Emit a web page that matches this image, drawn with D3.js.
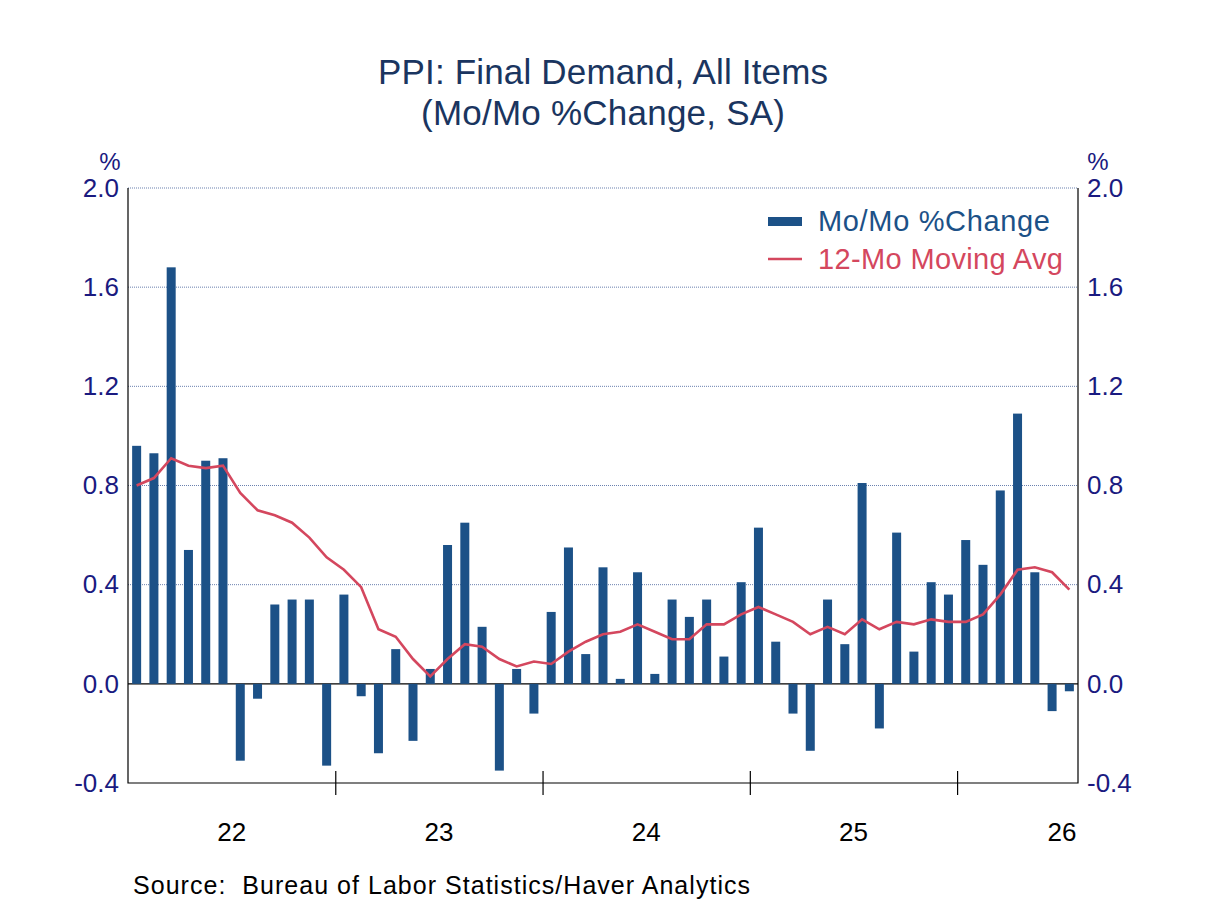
<!DOCTYPE html><html><head><meta charset="utf-8"><script src="https://cdn.jsdelivr.net/npm/d3@7"></script>
<style>body{margin:0;background:#fff}</style></head><body><svg id="c" width="1208" height="906"></svg>
<script>
const yearLabels=["22","23","24","25","26"];
const momChange=[0.96,0.93,1.68,0.54,0.90,0.91,-0.31,-0.06,0.32,0.34,0.34,-0.33,
0.36,-0.05,-0.28,0.14,-0.23,0.06,0.56,0.65,0.23,-0.35,0.06,-0.12,
0.29,0.55,0.12,0.47,0.02,0.45,0.04,0.34,0.27,0.34,0.11,0.41,
0.63,0.17,-0.12,-0.27,0.34,0.16,0.81,-0.18,0.61,0.13,0.41,0.36,
0.58,0.48,0.78,1.09,0.45,-0.11,-0.03];
const movingAvg=[0.80,0.83,0.91,0.88,0.87,0.88,0.77,0.70,0.68,0.65,0.59,0.51,
0.46,0.39,0.22,0.19,0.10,0.03,0.10,0.16,0.15,0.10,0.07,0.09,
0.08,0.13,0.17,0.20,0.21,0.24,0.21,0.18,0.18,0.24,0.24,0.28,
0.31,0.28,0.25,0.20,0.23,0.20,0.26,0.22,0.25,0.24,0.26,0.25,
0.25,0.28,0.36,0.46,0.47,0.45,0.38];
const yTicks=[-0.4,0,0.4,0.8,1.2,1.6,2.0];
const svg=d3.select("#c");
const L=128,R=1078,T=188,B=783;
const x=d3.scaleLinear().domain([0,momChange.length]).range([L,R]);
const y=d3.scaleLinear().domain([-0.4,2.0]).range([B,T]);
const navy="#1a1a80",font="Arial, Liberation Sans, sans-serif";
const fmt=d=>d3.format(".1f")(d).replace("−","-");
svg.selectAll(".g").data(yTicks.filter(d=>d>-0.4)).enter().append("line")
 .attr("x1",L).attr("x2",R).attr("y1",d=>y(d)).attr("y2",d=>y(d))
 .attr("stroke",d=>d===0?"#000":"#2b4a8c").attr("stroke-width",d=>d===0?1.2:0.7)
 .attr("stroke-dasharray",d=>d===0?null:"1,1");
const bw=9;
svg.selectAll(".b").data(momChange).enter().append("rect")
 .attr("x",(d,i)=>x(i+0.5)-bw/2).attr("width",bw)
 .attr("y",d=>y(Math.max(0,d))).attr("height",d=>Math.abs(y(d)-y(0)))
 .attr("fill","#1c5187");
svg.append("path").datum(movingAvg).attr("fill","none").attr("stroke","#d4475e").attr("stroke-width",2.6)
 .attr("d",d3.line().x((d,i)=>x(i+0.5)).y(d=>y(d)));
svg.append("path").attr("d",`M${L},${T}V${B}H${R}V${T}`).attr("fill","none").attr("stroke","#000").attr("stroke-width",1.2);
const ya=d3.axisLeft(y).tickValues(yTicks).tickFormat(fmt).tickSize(0).tickPadding(9);
const yb=d3.axisRight(y).tickValues(yTicks).tickFormat(fmt).tickSize(0).tickPadding(9);
[[ya,L],[yb,R]].forEach(([a,p])=>{const g=svg.append("g").attr("transform",`translate(${p},0)`).call(a);
 g.select(".domain").remove();g.selectAll("text").attr("font-size",26).attr("fill",navy).attr("font-family",font);});
[-12,12].forEach(s=>{const g=svg.append("g").attr("transform",`translate(0,${B})`).call(d3.axisBottom(x).tickValues([12,24,36,48]).tickFormat("").tickSize(s));
 g.select(".domain").remove();g.selectAll("line").attr("stroke","#000").attr("stroke-width",1.2);});
svg.selectAll(".yl").data(yearLabels).enter().append("text")
 .attr("x",(d,i)=>i<4?x(i*12+6):1062).attr("y",841).attr("text-anchor","middle")
 .attr("font-size",26).attr("fill","#000").attr("font-family",font).text(d=>d);
svg.append("text").attr("x",110).attr("y",170).attr("text-anchor","middle").attr("font-size",24).attr("fill",navy).attr("font-family",font).text("%");
svg.append("text").attr("x",1098).attr("y",170).attr("text-anchor","middle").attr("font-size",24).attr("fill",navy).attr("font-family",font).text("%");
svg.append("text").attr("x",378).attr("y",84).attr("textLength",450).attr("font-size",35).attr("fill","#1a3560").attr("font-family",font).text("PPI: Final Demand, All Items");
svg.append("text").attr("x",421).attr("y",125).attr("textLength",364).attr("font-size",35).attr("fill","#1a3560").attr("font-family",font).text("(Mo/Mo %Change, SA)");
svg.append("rect").attr("x",768).attr("y",217).attr("width",34).attr("height",9).attr("fill","#1c5187");
svg.append("text").attr("x",818).attr("y",231).attr("textLength",232).attr("font-size",29).attr("fill","#1c5187").attr("font-family",font).text("Mo/Mo %Change");
svg.append("line").attr("x1",768).attr("x2",802).attr("y1",259).attr("y2",259).attr("stroke","#d4475e").attr("stroke-width",2.6);
svg.append("text").attr("x",818).attr("y",269).attr("textLength",245).attr("font-size",29).attr("fill","#d4475e").attr("font-family",font).text("12-Mo Moving Avg");
svg.append("text").attr("x",133).attr("y",894).attr("textLength",617).attr("font-size",25).attr("fill","#000").attr("font-family",font).attr("xml:space","preserve").text("Source:  Bureau of Labor Statistics/Haver Analytics");
</script></body></html>
